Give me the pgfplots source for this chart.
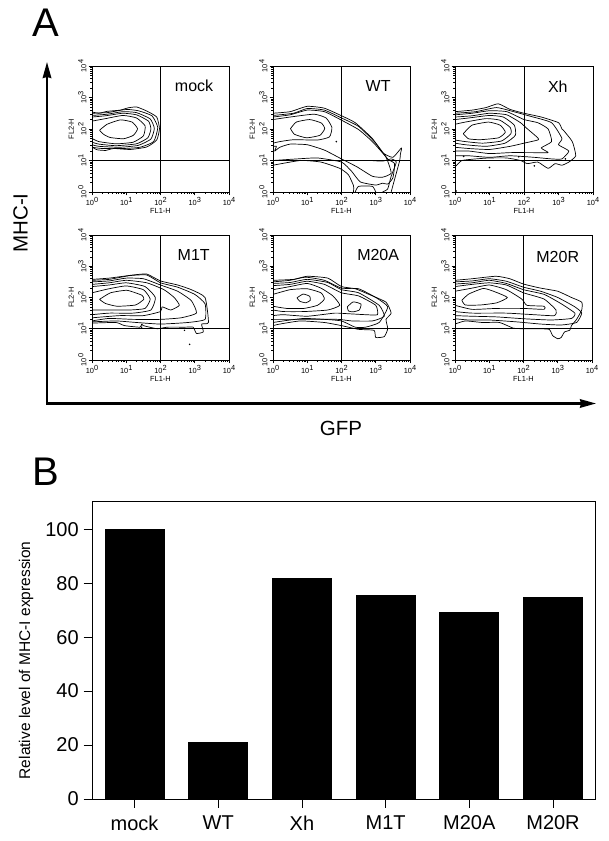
\documentclass[border=0pt]{standalone}
\usepackage{pgfplots}
\pgfplotsset{compat=1.18}
\usepackage{fontspec}
\setmainfont{Liberation Sans}
\usetikzlibrary{arrows.meta}
\newcommand{\tl}[1]{10\raisebox{.42em}{#1}}
\pgfplotsset{
  ct/.style={black,line width=.7pt,smooth,tension=.3,no markers,line join=round,forget plot},
  qd/.style={black,line width=.8pt,no markers,forget plot},
  fc/.style={scale only axis,width=137pt,height=126pt,anchor=south west,
    xmin=0,xmax=4,ymin=0,ymax=4,axis line style={line width=.8pt},
    tick align=outside,xtick pos=bottom,ytick pos=left,
    xtick={0,1,2,3,4},ytick={0,1,2,3,4},
    xticklabels={\tl{0},\tl{1},\tl{2},\tl{3},\tl{4}},
    yticklabels={\tl{0},\tl{1},\tl{2},\tl{3},\tl{4}},
    minor xtick={.301,.477,.602,.699,.778,.845,.903,.954,1.301,1.477,1.602,1.699,1.778,1.845,1.903,1.954,2.301,2.477,2.602,2.699,2.778,2.845,2.903,2.954,3.301,3.477,3.602,3.699,3.778,3.845,3.903,3.954},
    minor ytick={.301,.477,.602,.699,.778,.845,.903,.954,1.301,1.477,1.602,1.699,1.778,1.845,1.903,1.954,2.301,2.477,2.602,2.699,2.778,2.845,2.903,2.954,3.301,3.477,3.602,3.699,3.778,3.845,3.903,3.954},
    major tick length=3.5pt,minor tick length=1.8pt,
    every tick/.style={black,line width=.6pt},
    tick label style={font=\fontsize{7.4}{8}\selectfont},
    xticklabel style={yshift=1.5pt},
    yticklabel style={rotate=90,anchor=south,yshift=-1.5pt},
    xlabel={FL1-H},ylabel={FL2-H},
    every axis x label/.style={at={(rel axis cs:.5,0)},anchor=north,yshift=-13pt,font=\fontsize{7.4}{8}\selectfont},
    every axis y label/.style={at={(rel axis cs:0,.5)},rotate=90,anchor=south,yshift=14.5pt,font=\fontsize{7.4}{8}\selectfont},
  },
}
\begin{document}
\begin{tikzpicture}[x=1pt,y=1pt]
\path[use as bounding box] (0,0) rectangle (609,841);
% ---------- mock
\begin{axis}[fc,at={(92pt,649pt)}]
\addplot[qd] coordinates {(2,0)(2,4)};
\addplot[qd] coordinates {(0,1)(4,1)};
\addplot[ct] coordinates {(.22,1.96)(.44,2.15)(.83,2.29)(1.17,2.22)(1.33,2.01)(1.21,1.80)(.92,1.69)(.53,1.73)(.34,1.83)(.22,1.96)};
\addplot[ct] coordinates {(0,2.25)(.4,2.33)(.9,2.43)(1.3,2.35)(1.55,2.1)(1.5,1.78)(1.2,1.58)(.7,1.53)(.2,1.6)(0,1.7)};
\addplot[ct] coordinates {(0,2.38)(.4,2.42)(.9,2.5)(1.3,2.45)(1.65,2.25)(1.72,2)(1.63,1.72)(1.3,1.53)(.7,1.47)(.2,1.52)(0,1.58)};
\addplot[ct] coordinates {(0,2.43)(.45,2.47)(.9,2.55)(1.3,2.52)(1.7,2.32)(1.82,2.02)(1.72,1.68)(1.35,1.48)(.8,1.42)(.2,1.45)(0,1.5)};
\addplot[ct] coordinates {(0,2.5)(.45,2.52)(.85,2.6)(1.05,2.62)(1.35,2.58)(1.75,2.42)(1.92,2.05)(1.8,1.6)(1.4,1.42)(.9,1.38)(.3,1.38)(0,1.42)};
\addplot[ct] coordinates {(0,2.54)(.2,2.5)(.44,2.56)(.83,2.6)(1.05,2.67)(1.3,2.7)(1.6,2.57)(1.89,2.38)(1.97,2.01)(1.89,1.65)(1.6,1.43)(1.12,1.35)(.63,1.38)(.4,1.32)(.15,1.34)(0,1.43)};
\node[font=\fontsize{16}{18}\selectfont] at (axis cs:2.98,3.37) {mock};
\end{axis}
% ---------- WT
\begin{axis}[fc,at={(273pt,649pt)}]
\addplot[qd] coordinates {(2,0)(2,4)};
\addplot[qd] coordinates {(0,1)(4,1)};
\addplot[ct] coordinates {(.51,2.01)(.68,2.22)(1.07,2.30)(1.41,2.19)(1.51,2.01)(1.37,1.80)(.98,1.72)(.63,1.83)(.51,2.01)};
\addplot[ct] coordinates {(0,2.3)(.5,2.38)(1.2,2.47)(1.55,2.35)(1.72,2.05)(1.65,1.75)(1.3,1.65)(.6,1.66)(.2,1.6)(0,1.55)};
\addplot[ct] coordinates {(0,2.38)(.5,2.45)(1,2.6)(1.5,2.55)(2,2.28)(2.5,1.98)(2.9,1.6)(3.3,1.1)(3.45,.6)(3.2,.47)(2.9,.5)(2.45,.8)(2,1.05)(1.5,1.33)(1,1.5)(.5,1.52)(.2,1.42)(.05,1.3)(.1,1.45)(0,1.45)};
\addplot[ct] coordinates {(0,2.43)(.6,2.5)(1,2.65)(1.5,2.6)(2,2.35)(2.5,2.08)(3,1.55)(3.35,1.05)(3.55,.9)(3.5,.45)(3.35,.25)(3.2,.28)(3,.22)(2.55,.32)(2.3,.65)(2,.95)(1.3,1.08)(.7,1.05)(0,1)};
\addplot[ct] coordinates {(0,2.5)(.5,2.55)(1,2.72)(1.5,2.66)(2,2.42)(2.4,2.2)(2.9,1.7)(3.2,1.25)(3.5,1.1)(3.75,1.4)(3.72,1.2)(3.7,1)(3.55,.4)(3.45,0)};
\addplot[ct] coordinates {(3,0)(2.9,.18)(2.5,.18)(2.4,0)};
\addplot[ct] coordinates {(2.35,0)(2.35,.2)(2.2,.55)(1.95,.75)(1.4,.95)(.8,1)(0,.85)};
\addplot[ct] coordinates {(3.2,0)(3.35,.1)(3.45,.5)(3.6,.95)(3.45,1.05)(3.2,.98)(2.85,1)};
\addplot[only marks,mark=*,mark size=.6pt,black,forget plot] coordinates {(1.85,1.6)};
\node[font=\fontsize{16}{18}\selectfont] at (axis cs:3.07,3.37) {WT};
\end{axis}
% ---------- Xh
\begin{axis}[fc,at={(455pt,649pt)},width=138pt]
\addplot[qd] coordinates {(2,0)(2,4)};
\addplot[qd] coordinates {(0,1)(4,1)};
\addplot[ct] coordinates {(.24,1.85)(.49,2.12)(.97,2.22)(1.31,2.12)(1.46,1.9)(1.26,1.72)(.73,1.66)(.39,1.69)(.24,1.85)};
\addplot[ct] coordinates {(0,2.15)(.3,2.22)(.9,2.33)(1.3,2.28)(1.6,2.05)(1.62,1.85)(1.35,1.62)(.8,1.55)(.3,1.6)(0,1.65)};
\addplot[ct] coordinates {(0,2.3)(.4,2.35)(1,2.43)(1.4,2.38)(1.72,2.12)(1.75,1.8)(1.45,1.55)(.9,1.45)(.3,1.5)(0,1.55)};
\addplot[ct] coordinates {(0,2.38)(.5,2.42)(1,2.5)(1.5,2.45)(1.9,2.2)(2.05,2.05)(2.4,1.72)(2.4,1.65)(2,1.55)(1.6,1.45)(1,1.35)(.4,1.38)(0,1.42)};
\addplot[ct] coordinates {(0,2.45)(.5,2.5)(1,2.58)(1.5,2.55)(2,2.3)(2.4,2.2)(2.7,2)(2.8,1.6)(2.5,1.4)(2.7,1.25)(2.2,1.25)(1.6,1.25)(1,1.22)(.4,1.3)(0,1.3)};
\addplot[ct] coordinates {(0,2.5)(.6,2.55)(1.2,2.68)(1.7,2.55)(2.2,2.4)(2.8,2.2)(3.1,1.7)(3,1.5)(3.3,1.3)(3.1,1.05)(2.8,1.05)(2.3,1.1)(1.6,1.15)(1,1.1)(.4,1.15)(0,1.15)};
\addplot[ct] coordinates {(0,2.55)(.5,2.6)(.9,2.68)(1.25,2.8)(1.6,2.62)(2,2.5)(2.5,2.38)(3,2.2)(3.1,2)(3.15,1.95)(3.4,1.6)(3.5,1.15)(3.3,.95)(3.1,.85)(2.9,.9)(2.7,.75)(2.4,.95)(2.1,.9)(1.9,1)(1.5,1.08)(1,1.08)(.6,1.05)(.2,1)(.05,.85)(0,.8)};
\addplot[only marks,mark=*,mark size=.6pt,black,forget plot] coordinates {(1,.78)(2.3,.83)(.25,1.13)(1.85,1.12)(3.2,1.05)(.03,.03)};
\node[font=\fontsize{16}{18}\selectfont] at (axis cs:2.98,3.33) {Xh};
\end{axis}
% ---------- M1T
\begin{axis}[fc,at={(92pt,481pt)},height=125pt]
\addplot[qd] coordinates {(2,0)(2,4)};
\addplot[qd] coordinates {(0,1)(4,1)};
\addplot[ct] coordinates {(.22,1.94)(.54,2.15)(1.02,2.23)(1.46,2.07)(1.51,1.94)(1.27,1.76)(.73,1.72)(.39,1.81)(.22,1.94)};
\addplot[ct] coordinates {(0,2.15)(.5,2.28)(1,2.37)(1.5,2.25)(1.7,1.95)(1.55,1.65)(1.1,1.6)(.5,1.6)(0,1.6)};
\addplot[ct] coordinates {(0,2.35)(.5,2.4)(1,2.47)(1.55,2.35)(1.85,2)(1.72,1.6)(1.2,1.5)(.5,1.5)(0,1.45)};
\addplot[ct] coordinates {(0,2.42)(.5,2.47)(1,2.55)(1.6,2.47)(2.1,2.25)(2.4,2)(2.55,1.75)(2.3,1.6)(2.05,1.7)(2,1.55)(1.5,1.42)(.8,1.42)(0,1.35)};
\addplot[ct] coordinates {(0,2.5)(.5,2.53)(1,2.62)(1.5,2.6)(2,2.4)(2.5,2.2)(2.9,1.9)(3.05,1.5)(2.6,1.35)(2,1.3)(1.2,1.3)(.5,1.33)(0,1.25)};
\addplot[ct] coordinates {(0,2.55)(.5,2.58)(1.1,2.7)(1.6,2.72)(2,2.47)(2.5,2.33)(3,2.1)(3.3,1.8)(3.3,1.3)(2.8,1.2)(2,1.15)(1.3,1.2)(.7,1.25)(0,1.22)};
\addplot[ct] coordinates {(0,2.58)(.5,2.62)(1.2,2.72)(1.6,2.75)(2,2.53)(2.5,2.4)(2.9,2.25)(3.3,2)(3.4,1.2)(3.2,1.15)(3.25,.9)(3.05,.85)(2.95,1.05)(2.7,1.05)(2.2,1.05)(1.9,1)(1.5,1.1)(1.45,1.15)(1.4,1.05)(.95,1.1)(.7,1.2)(0,1.18)};
\addplot[only marks,mark=*,mark size=.5pt,black,forget plot] coordinates {(2.85,.5)(2.7,.95)(1.45,1.05)};
\node[font=\fontsize{16}{18}\selectfont] at (axis cs:2.97,3.36) {M1T};
\end{axis}
% ---------- M20A
\begin{axis}[fc,at={(273pt,481pt)},height=125pt]
\addplot[qd] coordinates {(2,0)(2,4)};
\addplot[qd] coordinates {(0,1)(4,1)};
\addplot[ct] coordinates {(.7,1.99)(.88,2.11)(1.07,2.04)(1.09,1.91)(.96,1.83)(.78,1.88)(.7,1.99)};
\addplot[ct] coordinates {(2.17,1.7)(2.34,1.86)(2.57,1.79)(2.52,1.6)(2.34,1.54)(2.2,1.57)(2.17,1.7)};
\addplot[ct] coordinates {(0,2.1)(.5,2.25)(1,2.28)(1.4,2.15)(1.5,1.95)(1.3,1.75)(.9,1.65)(.4,1.65)(0,1.72)};
\addplot[ct] coordinates {(0,2.25)(.5,2.35)(1,2.45)(1.4,2.3)(1.75,2.05)(1.95,1.75)(1.6,1.6)(.9,1.55)(.3,1.55)(0,1.6)};
\addplot[ct] coordinates {(0,2.38)(.5,2.42)(1,2.52)(1.5,2.42)(2,2.15)(2.5,2.05)(3,1.75)(3.05,1.45)(2.7,1.45)(2.2,1.48)(1.8,1.5)(1,1.4)(.3,1.45)(0,1.42)};
\addplot[ct] coordinates {(0,2.45)(.5,2.48)(1,2.58)(1.6,2.48)(2,2.25)(2.5,2.15)(3.1,1.75)(3.25,1.4)(2.9,1.25)(2.3,1.25)(1.9,1.3)(1,1.3)(.3,1.3)(0,1.3)};
\addplot[ct] coordinates {(0,2.5)(.5,2.55)(.95,2.65)(1.5,2.55)(2,2.3)(2.5,2.28)(3,2)(3.35,1.7)(3.1,1.2)(2.7,1.05)(2.4,1.05)(2,1.25)(1.5,1.3)(.9,1.33)(.3,1.25)(0,1.2)};
\addplot[ct] coordinates {(0,2.55)(.6,2.58)(1,2.68)(1.6,2.62)(2,2.35)(2.4,2.28)(2.8,2.1)(3.3,1.85)(3.45,1.5)(3.3,1.3)(3.35,1)(3.25,.75)(3,.72)(2.95,.95)(2.5,.98)(2,1.1)(1.5,1.2)(.8,1.25)(.2,1.15)(0,1.1)};
\node[font=\fontsize{16}{18}\selectfont] at (axis cs:3.07,3.36) {M20A};
\end{axis}
% ---------- M20R
\begin{axis}[fc,at={(455pt,481pt)},height=125pt]
\addplot[qd] coordinates {(2,0)(2,4)};
\addplot[qd] coordinates {(0,1)(4,1)};
\addplot[ct] coordinates {(.2,1.91)(.4,2.11)(.83,2.29)(1.17,2.18)(1.53,2)(1.22,1.83)(.74,1.76)(.3,1.76)(.2,1.91)};
\addplot[ct] coordinates {(0,2.2)(.5,2.3)(1,2.4)(1.5,2.25)(1.95,1.95)(2.1,1.75)(2.6,1.72)(2.6,1.62)(2,1.65)(1.2,1.65)(.5,1.62)(0,1.75)};
\addplot[ct] coordinates {(0,2.35)(.5,2.42)(1,2.47)(1.5,2.4)(2,2.15)(2.6,1.95)(2.95,1.6)(2.9,1.42)(2.3,1.45)(1.5,1.5)(.5,1.5)(0,1.55)};
\addplot[ct] coordinates {(0,2.43)(.5,2.47)(1,2.55)(1.5,2.45)(2,2.25)(2.6,2.1)(3.1,1.8)(3.5,1.5)(3.4,1.33)(2.8,1.28)(2,1.32)(1.2,1.38)(.5,1.4)(0,1.42)};
\addplot[ct] coordinates {(0,2.5)(.5,2.53)(1,2.6)(1.5,2.52)(2,2.33)(2.5,2.2)(3,2)(3.5,1.7)(3.7,1.5)(3.55,1.2)(3.1,1.12)(2.5,1.15)(1.8,1.22)(1,1.28)(.4,1.28)(0,1.32)};
\addplot[ct] coordinates {(0,2.55)(.5,2.6)(1.2,2.68)(1.6,2.6)(2,2.43)(2.5,2.3)(3,2.2)(3.4,2)(3.7,1.85)(3.7,1.6)(3.55,1.3)(3.4,1.1)(3.35,.95)(3.2,.9)(3.1,.72)(3,.68)(2.85,.78)(2.75,.98)(2.4,1)(2,1)(1.7,1.02)(1.3,1.2)(.8,1.2)(.3,1.25)(0,1.15)};
\node[font=\fontsize{16}{18}\selectfont] at (axis cs:3,3.3) {M20R};
\end{axis}
% ---------- arrows and panel text
\draw[line width=2.2pt,-{Stealth[length=16pt,width=8.5pt,inset=1pt]}] (47,437) -- (47,779);
\draw[line width=2.2pt,-{Stealth[length=16pt,width=8.5pt,inset=1pt]}] (46,437.5) -- (596,437.5);
\node[font=\fontsize{40}{42}\selectfont] at (46,818.5) {A};
\node[font=\fontsize{40}{42}\selectfont] at (46,369) {B};
\node[rotate=90,font=\fontsize{20.5}{22}\selectfont] at (20.5,618) {MHC-I};
\node[font=\fontsize{20.5}{22}\selectfont] at (341,413) {GFP};
% ---------- bars
\begin{axis}[scale only axis,at={(92.7pt,42pt)},anchor=south west,width=503pt,height=297.3pt,
  xmin=-.4994,xmax=5.51,ymin=0,ymax=110.2,
  ybar,bar width=59pt,
  axis line style={line width=.7pt},
  tick align=outside,xtick pos=bottom,ytick pos=left,
  xtick={0,1,2,3,4,5},xticklabels={mock,WT,Xh,M1T,M20A,M20R},
  ytick={0,20,40,60,80,100},
  major tick length=9pt,
  every tick/.style={black,line width=.6pt},
  tick label style={font=\fontsize{20}{22}\selectfont},
  xticklabel style={yshift=-4pt},
  yticklabel style={xshift=-1.5pt},
  /pgf/number format/assume math mode=true,
  ylabel={Relative level of MHC-I expression},
  every axis y label/.style={at={(rel axis cs:0,.5)},rotate=90,anchor=center,yshift=66.7pt,xshift=-10pt,font=\fontsize{15.5}{17}\selectfont},
]
\addplot[fill=black,draw=black,line width=0pt] coordinates {(0,100)(1,21)(2,81.7)(3,75.6)(4,69)(5,74.8)};
\end{axis}
\end{tikzpicture}
\end{document}
